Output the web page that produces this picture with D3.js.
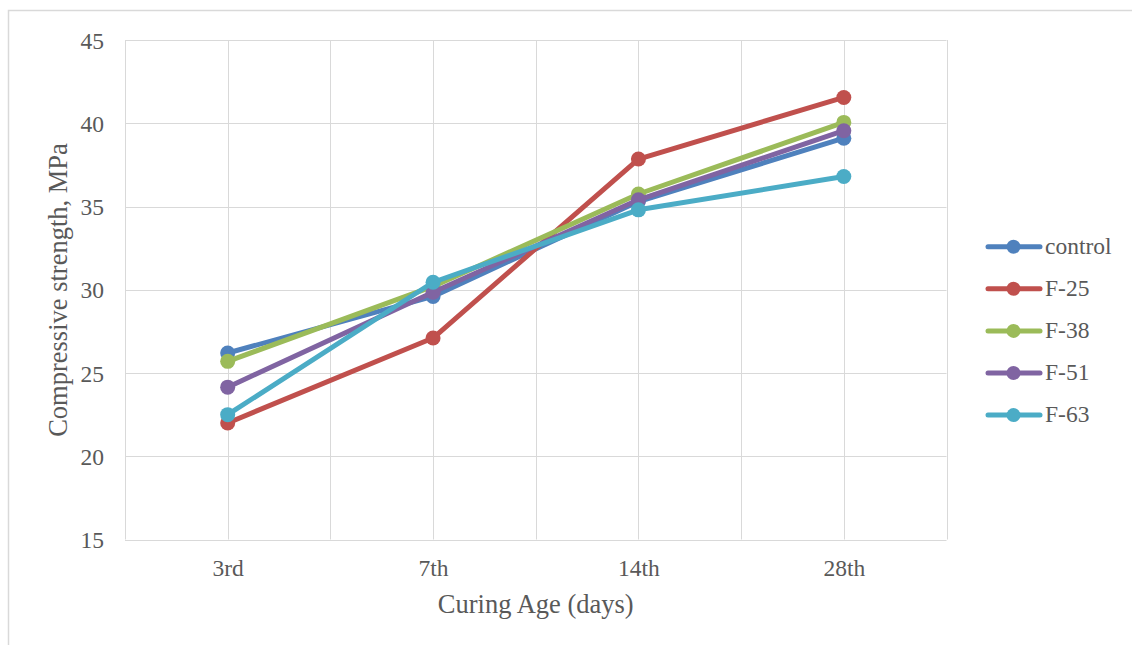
<!DOCTYPE html>
<html>
<head>
<meta charset="utf-8">
<script src="https://cdn.jsdelivr.net/npm/d3@7/dist/d3.min.js"></script>
<style>
  html, body { margin: 0; padding: 0; background: #ffffff; }
  svg { display: block; }
  text { font-family: "Liberation Serif", "Times New Roman", serif; fill: #595959; }
</style>
</head>
<body>
<script>
const categories = ["3rd", "7th", "14th", "28th"];
const seriesNames = ["control", "F-25", "F-38", "F-51", "F-63"];
const control = [26.2, 29.6, 35.3, 39.1];
const f25 = [22.0, 27.1, 37.85, 41.55];
const f38 = [25.7, 30.2, 35.75, 40.05];
const f51 = [24.15, 29.85, 35.4, 39.55];
const f63 = [22.5, 30.45, 34.8, 36.8];
const seriesColors = ["#4F81BD", "#C0504D", "#9BBB59", "#8064A2", "#4BACC6"];
const yTicks = [15, 20, 25, 30, 35, 40, 45];
const xTitle = "Curing Age (days)";
const yTitle = "Compressive strength, MPa";

const seriesValues = [control, f25, f38, f51, f63];
const series = seriesNames.map((n, i) => ({ name: n, color: seriesColors[i], values: seriesValues[i] }));

const W = 1132, H = 645;
const plot = { left: 125, right: 946.5, top: 40, bottom: 539.5 };
const FONT = "'Liberation Serif', 'Times New Roman', serif";

const svg = d3.select("body").append("svg").attr("width", W).attr("height", H);

// outer chart border (extends beyond image on right and bottom)
svg.append("rect")
  .attr("x", 8.5).attr("y", 10.5).attr("width", W + 10).attr("height", H + 10)
  .attr("fill", "none").attr("stroke", "#d9d9d9").attr("stroke-width", 1.5);

const x = d3.scalePoint().domain(categories).range([plot.left, plot.right]).padding(0.5);
const y = d3.scaleLinear().domain([15, 45]).range([plot.bottom, plot.top]);

const step = x.step();
const grid = svg.append("g");
grid.selectAll("line.h").data(yTicks).enter().append("line")
  .attr("x1", plot.left).attr("x2", plot.right)
  .attr("y1", d => Math.round(y(d)) + 0.5).attr("y2", d => Math.round(y(d)) + 0.5)
  .attr("stroke", "#d9d9d9").attr("stroke-width", 1);
const vLines = [];
for (let i = 0; i <= categories.length * 2; i++) vLines.push(plot.left + i * step / 2);
grid.selectAll("line.v").data(vLines).enter().append("line")
  .attr("x1", d => Math.round(d) + 0.5).attr("x2", d => Math.round(d) + 0.5)
  .attr("y1", plot.top).attr("y2", plot.bottom)
  .attr("stroke", "#d9d9d9").attr("stroke-width", 1);

// y axis labels
const yAxis = d3.axisLeft(y).tickValues(yTicks).tickSize(0).tickPadding(21);
const gy = svg.append("g").attr("transform", `translate(${plot.left},0)`).call(yAxis)
  .attr("font-family", FONT).attr("font-size", 23.5);
gy.select(".domain").remove();
gy.selectAll("text").style("font-size", "23.5px").style("font-family", FONT).attr("fill", "#595959").attr("dy", "0.34em");

// x axis labels
const xAxis = d3.axisBottom(x).tickSize(0).tickPadding(0);
const gx = svg.append("g").attr("transform", `translate(0,${plot.bottom})`).call(xAxis)
  .attr("font-family", FONT).attr("font-size", 23.5);
gx.select(".domain").remove();
gx.selectAll("text").style("font-size", "23.5px").style("font-family", FONT).attr("fill", "#595959").attr("y", 36).attr("dy", 0);

// lines
const line = d3.line().x((d, i) => x(categories[i])).y(d => y(d));
const gs = svg.append("g");
series.forEach(s => {
  const g = gs.append("g");
  g.append("path").attr("d", line(s.values)).attr("fill", "none")
    .attr("stroke", s.color).attr("stroke-width", 5).attr("stroke-linejoin", "round").attr("stroke-linecap", "round");
  g.selectAll("circle").data(s.values).enter().append("circle")
    .attr("cx", (d, i) => x(categories[i])).attr("cy", d => y(d)).attr("r", 7.5)
    .attr("fill", s.color);
});

// axis titles
svg.append("text").attr("x", (plot.left + plot.right) / 2).attr("y", 613)
  .attr("text-anchor", "middle").style("font-size", "26.5px").text(xTitle);
svg.append("text").attr("transform", "translate(67,290) rotate(-90)")
  .attr("text-anchor", "middle").style("font-size", "26.5px").text(yTitle);

// legend
const leg = svg.append("g");
series.forEach((s, i) => {
  const cy = 246.7 + i * 42.1;
  leg.append("line").attr("x1", 988).attr("x2", 1040).attr("y1", cy).attr("y2", cy)
    .attr("stroke", s.color).attr("stroke-width", 5).attr("stroke-linecap", "round");
  leg.append("circle").attr("cx", 1013.5).attr("cy", cy).attr("r", 7).attr("fill", s.color);
  leg.append("text").attr("x", 1045).attr("y", cy + 6.8).style("font-size", "23.5px").text(s.name);
});
</script>
</body>
</html>
